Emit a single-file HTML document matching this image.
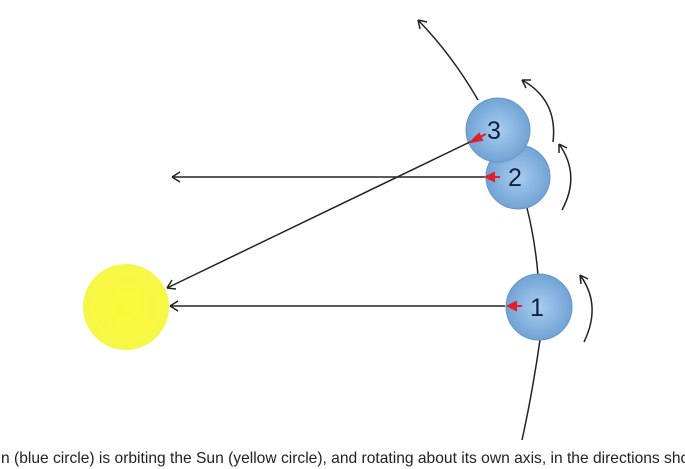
<!DOCTYPE html>
<html><head><style>
html,body{margin:0;padding:0;background:#fff;width:685px;height:469px;overflow:hidden}
svg{position:absolute;left:0;top:0}
.t{position:absolute;left:1px;top:450px;font:15.6px "Liberation Sans",sans-serif;color:#222;white-space:nowrap}
</style></head><body>
<svg width="685" height="469" viewBox="0 0 685 469">
<defs>
<radialGradient id="b" cx="50%" cy="50%" r="55%"><stop offset="0" stop-color="#a9cdf0"/><stop offset="1" stop-color="#6b9fd2"/></radialGradient>
<radialGradient id="y" cx="50%" cy="50%" r="55%"><stop offset="0" stop-color="#fbfb3a"/><stop offset="1" stop-color="#f6f64a"/></radialGradient>
</defs>
<g fill="none" stroke="#222" stroke-width="1.5">
<path d="M522 440 Q532 395 540 340"/>
<path d="M538 275 Q535 240 527 208"/>
<path d="M478 100 Q452 55 418 20"/>
<path d="M418 20 l9 2 M418 20 l2 9"/>
<path d="M505 306 L170 306 M170 306 l8 -5 M170 306 l8 5"/>
<path d="M485 177 L172 177 M172 177 l8 -5 M172 177 l8 5"/>
<path d="M472 141 L167 288 M167 288 l5 -8 M167 288 l9 1"/>
<path d="M584 342 Q602 305 580 275 M580 275 l1 9 M580 275 l8 4"/>
<path d="M562 210 Q581 175 559 144 M559 144 l0 9 M559 144 l8 4"/>
<path d="M553 142 Q558 100 522 80 M522 80 l4 8 M522 80 l9 0"/>
</g>
<ellipse cx="126" cy="307" rx="43" ry="43" fill="url(#y)"/>
<circle cx="518" cy="177" r="32" fill="url(#b)" stroke="#6a98c6"/>
<circle cx="498" cy="130" r="32" fill="url(#b)" stroke="#6a98c6"/>
<circle cx="539" cy="307" r="33" fill="url(#b)" stroke="#6a98c6"/>
<g stroke="#222" stroke-width="1.5"><line x1="472" y1="141" x2="466" y2="144"/></g>
<g stroke="#e0202a" stroke-width="2" fill="#e0202a">
<line x1="486" y1="134" x2="476" y2="139"/><path d="M471 142 l8 -8 l3 6z"/>
<line x1="500" y1="177" x2="491" y2="177"/><path d="M486 177 l8 -4 l0 8z"/>
<line x1="522" y1="306" x2="513" y2="306"/><path d="M508 306 l8 -4 l0 8z"/>
</g>
<g font-family="Liberation Sans,sans-serif" font-size="25" fill="#142040">
<text x="487" y="139">3</text>
<text x="508" y="186">2</text>
<text x="530" y="316">1</text>
</g>
</svg>
<div class="t">n (blue circle) is orbiting the Sun (yellow circle), and rotating about its own axis, in the directions shown</div>
</body></html>
